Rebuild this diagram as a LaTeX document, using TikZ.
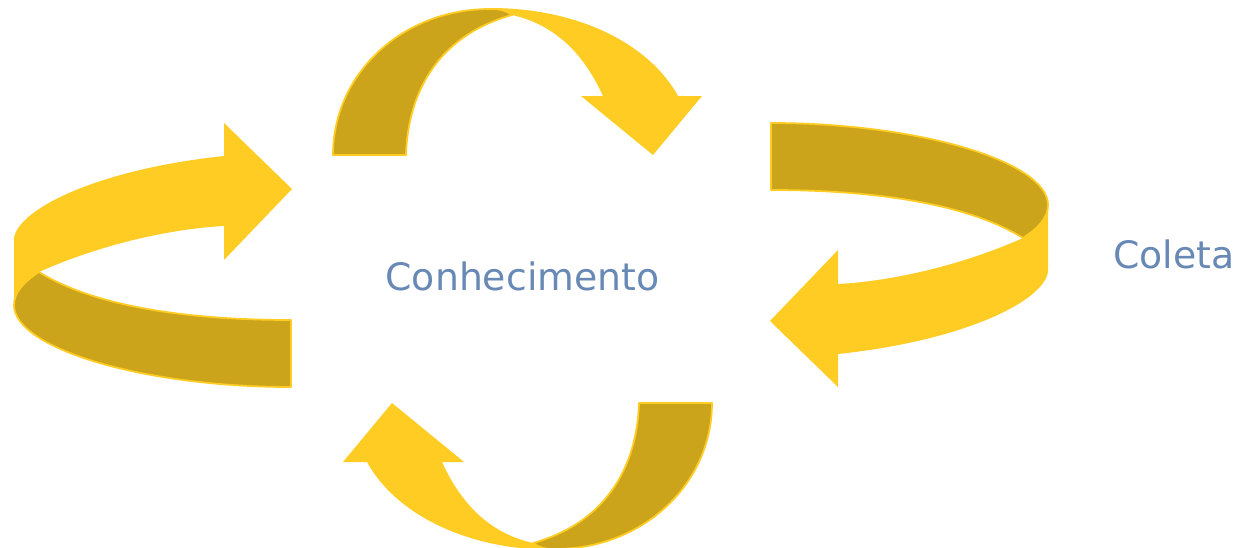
\documentclass[tikz,border=0pt]{standalone}
\usepackage{fontspec}
\usepackage{tikz}
\newfontfamily\cyclefont{DejaVu Sans}
\definecolor{ribbonlight}{RGB}{255,204,36}
\definecolor{ribbondark}{RGB}{204,164,27}
\definecolor{labelblue}{RGB}{104,137,181}
\tikzset{
    ribbonfront/.style={fill=ribbonlight, draw=none},
    ribbonback/.style={fill=ribbondark, draw=ribbonlight, line width=1pt, line join=round},
    cyclelabel/.style={anchor=base, inner sep=0pt, text=labelblue,
        font=\cyclefont\fontsize{21.5}{26}\selectfont}
}
% half turn over the top, arrow pointing down on the right
\newcommand{\archarrow}{%
    \fill[ribbonfront] (490,8) .. controls (580,8) and (650,45) .. (678,96)
        -- (702,96) -- (653,155) -- (581,96) -- (603,96)
        .. controls (582,50) and (552,24) .. (512,15) -- cycle;
    \filldraw[ribbonback] (333,155) -- (406,155) .. controls (408,90) and (440,35) .. (512,15)
        .. controls (505,10) and (500,9) .. (490,9)
        .. controls (402,9) and (333,74) .. (333,155) -- cycle;
}
% flat loop on the right, arrow pointing left
\newcommand{\looparrow}{%
    \fill[ribbonfront] (1048,205) -- (1048,270) .. controls (1048,298) and (970,340) .. (838,354)
        -- (838,387) -- (770,321) -- (838,250) -- (838,284)
        .. controls (895,281) and (965,264) .. (1023,238)
        .. controls (1038,228) and (1048,218) .. (1048,205) -- cycle;
    \filldraw[ribbonback] (771,123) -- (771,190) .. controls (880,190) and (970,205) .. (1023,238)
        .. controls (1038,228) and (1048,218) .. (1048,205)
        .. controls (1048,162) and (920,123) .. (771,123) -- cycle;
}

\begin{document}
\begin{tikzpicture}[x=0.02cm, y=-0.02cm]
    \useasboundingbox (0,0) rectangle (1245,548);

    \archarrow
    \begin{scope}[rotate around={180:(522.5,279)}]
        \archarrow
    \end{scope}

    \looparrow
    \begin{scope}[rotate around={180:(531,255)}]
        \looparrow
    \end{scope}

    \node[cyclelabel] (knowledge) at (522.5,290) {Conhecimento};
    \node[cyclelabel] (collect) at (1174,268) {Coleta};
\end{tikzpicture}
\end{document}
